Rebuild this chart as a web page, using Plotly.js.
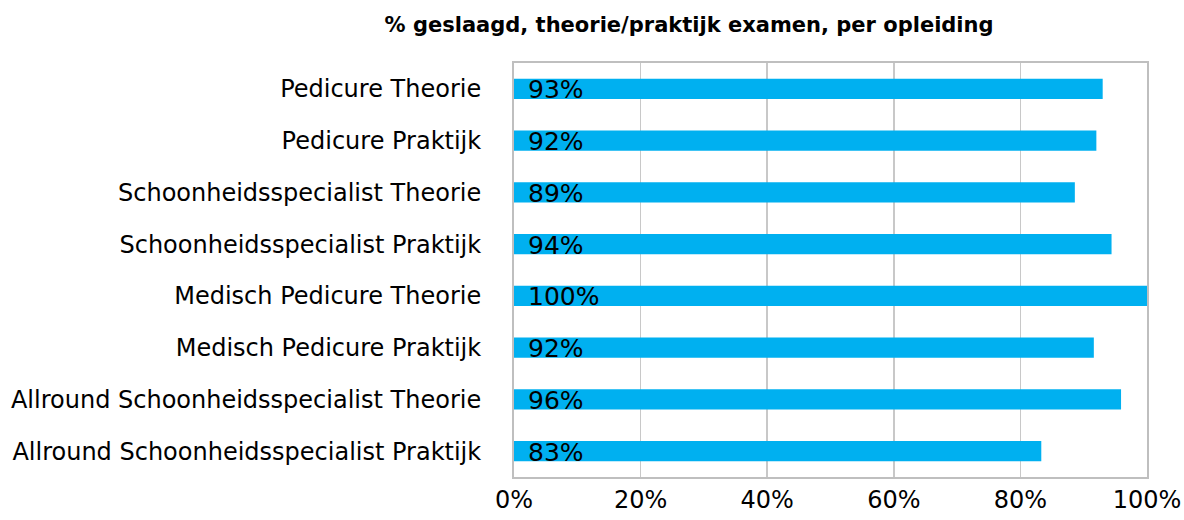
<!DOCTYPE html>
<html>
<head>
<meta charset="utf-8">
<script src="https://cdn.plot.ly/plotly-3.0.1.min.js"></script>
<style>html,body{margin:0;padding:0;background:#fff;}#chart{width:1184px;height:520px;}</style>
</head>
<body>
<div id="chart"></div>
<script>
const categories = [
  "Pedicure Theorie",
  "Pedicure Praktijk",
  "Schoonheidsspecialist Theorie",
  "Schoonheidsspecialist Praktijk",
  "Medisch Pedicure Theorie",
  "Medisch Pedicure Praktijk",
  "Allround Schoonheidsspecialist Theorie",
  "Allround Schoonheidsspecialist Praktijk"
];
const passRates = [0.93, 0.92, 0.886, 0.944, 1.0, 0.916, 0.959, 0.833];
const valueLabels = ["93%", "92%", "89%", "94%", "100%", "92%", "96%", "83%"];
const titleText = "% geslaagd, theorie/praktijk examen, per opleiding";

const trace = {
  type: "bar",
  orientation: "h",
  y: categories,
  x: passRates,
  marker: {color: "#00B0F0"},
  hoverinfo: "none"
};

const annotations = categories.map((c, i) => ({
  x: 0, y: c, xref: "x", yref: "y",
  text: valueLabels[i],
  showarrow: false,
  xanchor: "left",
  xshift: 12,
  yshift: -1,
  font: {family: "DejaVu Sans, Verdana, sans-serif", size: 25, color: "#000"}
}));

const layout = {
  width: 1184, height: 520,
  margin: {l: 514, r: 37, t: 63, b: 43},
  paper_bgcolor: "#fff", plot_bgcolor: "#fff",
  showlegend: false,
  bargap: 0.61,
  title: {
    text: "<b>" + titleText + "</b>",
    x: 0.582, xanchor: "center", y: 0.952, yanchor: "middle",
    font: {family: "DejaVu Sans, sans-serif", size: 21, color: "#000"}
  },
  xaxis: {
    range: [0, 1], dtick: 0.2, tick0: 0, tickformat: ".0%",
    showgrid: true, gridcolor: "#c8c8c8", gridwidth: 1.5,
    zeroline: false,
    showline: true, mirror: true, linecolor: "#bfbfbf", linewidth: 2,
    ticks: "", ticklabelstandoff: 0,
    tickfont: {family: "DejaVu Sans, Verdana, sans-serif", size: 24, color: "#000"},
    fixedrange: true
  },
  yaxis: {
    autorange: "reversed",
    showgrid: false, zeroline: false,
    showline: true, mirror: true, linecolor: "#bfbfbf", linewidth: 2,
    ticks: "", ticklabelstandoff: 26,
    tickfont: {family: "DejaVu Sans, Verdana, sans-serif", size: 24, color: "#000"},
    fixedrange: true
  },
  annotations: annotations
};

Plotly.newPlot("chart", [trace], layout, {displayModeBar: false, staticPlot: true});
</script>
</body>
</html>
